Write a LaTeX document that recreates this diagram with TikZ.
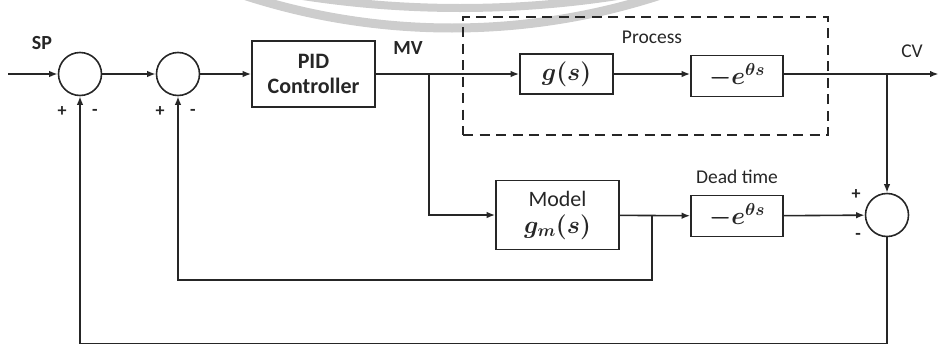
\documentclass[tikz,border=0pt]{standalone}
\usepackage[no-math]{fontspec}
\setmainfont{Carlito}
\usetikzlibrary{arrows.meta}
\definecolor{ink}{HTML}{262626}
\definecolor{arcgray}{HTML}{CDCDCD}
\tikzset{
  wire/.style={draw=ink, line width=1.6pt},
  sig/.style={wire, -{Latex[length=8.5pt,width=6.5pt]}},
  blk/.style={draw=ink, line width=1.6pt, inner sep=0pt, text=ink},
  sumnode/.style={circle, draw=ink, line width=1.6pt, minimum size=43pt, inner sep=0pt},
  boldlbl/.style={inner sep=0pt, text=ink, font=\fontsize{20}{24}\selectfont\bfseries},
  plainlbl/.style={inner sep=0pt, text=ink, font=\fontsize{19.5}{24}\selectfont},
  signlbl/.style={inner sep=0pt, text=ink, font=\fontsize{18}{20}\selectfont\bfseries},
  mathtxt/.style={font=\fontsize{23}{27}\selectfont\boldmath},
}
\begin{document}
\begin{tikzpicture}[x=1pt, y=-1pt]
\useasboundingbox (0,0) rectangle (939,343);

% faint arcs along the top edge
\begin{scope}
  \clip (0,0) rectangle (939,343);
  \draw[draw=arcgray, line width=9pt] (452,-644) circle (672pt);
  \draw[draw=arcgray, line width=8pt] (460,-1017) circle (1025pt);
\end{scope}

% summing junctions
\node[sumnode] (c1) at (80,74) {};
\node[sumnode] (c2) at (178,74) {};
\node[sumnode] (c3) at (887,215) {};

% blocks
\node[blk, minimum width=123pt, minimum height=66pt, align=center,
      font=\fontsize{22}{25}\selectfont\bfseries] (pid) at (313.5,74) {PID\\Controller};
\node[blk, minimum width=93pt, minimum height=40pt, mathtxt] (gs) at (566.5,74) {$g(s)$};
\node[blk, minimum width=92pt, minimum height=41pt, mathtxt] (pe) at (737,76) {$-e^{\theta s}$};
\node[blk, minimum width=123pt, minimum height=69pt, align=center,
      font=\fontsize{22}{27}\selectfont] (model) at (557.5,215) {Model\\{\fontsize{23}{27}\selectfont\boldmath$g_m(s)$}};
\node[blk, minimum width=92pt, minimum height=41pt, mathtxt] (dt) at (737,216) {$-e^{\theta s}$};

% process boundary
\node[draw=ink, line width=1.8pt, dash pattern=on 10pt off 6.5pt,
      minimum width=365pt, minimum height=118pt, inner sep=0pt] (proc) at (645.5,76) {};

% labels
\node[boldlbl] (sp) at (42,43) {SP};
\node[boldlbl] (mvl) at (408,48) {MV};
\node[plainlbl] (cvl) at (912,51) {CV};
\node[plainlbl] (procl) at (652,37) {Process};
\node[plainlbl] (dtl) at (737,177) {Dead time};

% signs at the junctions
\node[signlbl] (p1) at (62,112) {+};
\node[signlbl] (m1) at (95,112) {-};
\node[signlbl] (p2) at (160,112) {+};
\node[signlbl] (m2) at (193,112) {-};
\node[signlbl] (p3) at (856,195) {+};
\node[signlbl] (m3) at (858,236) {-};

% connection points
\coordinate (in) at (8,74);
\coordinate (mv) at (429,74);
\coordinate (cv) at (887,74);
\coordinate (out) at (938.5,74);
\coordinate (mb) at (652,215);
\coordinate (mbd) at (652,280);
\coordinate (bl) at (80,343.4);

% forward path
\draw[sig] (in) -- (c1);
\draw[sig] (c1) -- (c2);
\draw[sig] (c2) -- (pid);
\draw[sig] (pid) -- (gs);
\draw[sig] (gs) -- (gs.east -| pe.west);
\draw[sig] (pe.east |- out) -- (out);

% model branch
\draw[sig] (mv) |- (model);
\draw[sig] (model) -- (dt);
\draw[sig] (dt) -- (c3);
\draw[sig] (cv) -- (c3);

% feedback paths
\draw[sig] (mb) -- (mbd) -| (c2.south);
\draw[sig] (c3.south) |- (bl) -- (c1.south);
\end{tikzpicture}
\end{document}
